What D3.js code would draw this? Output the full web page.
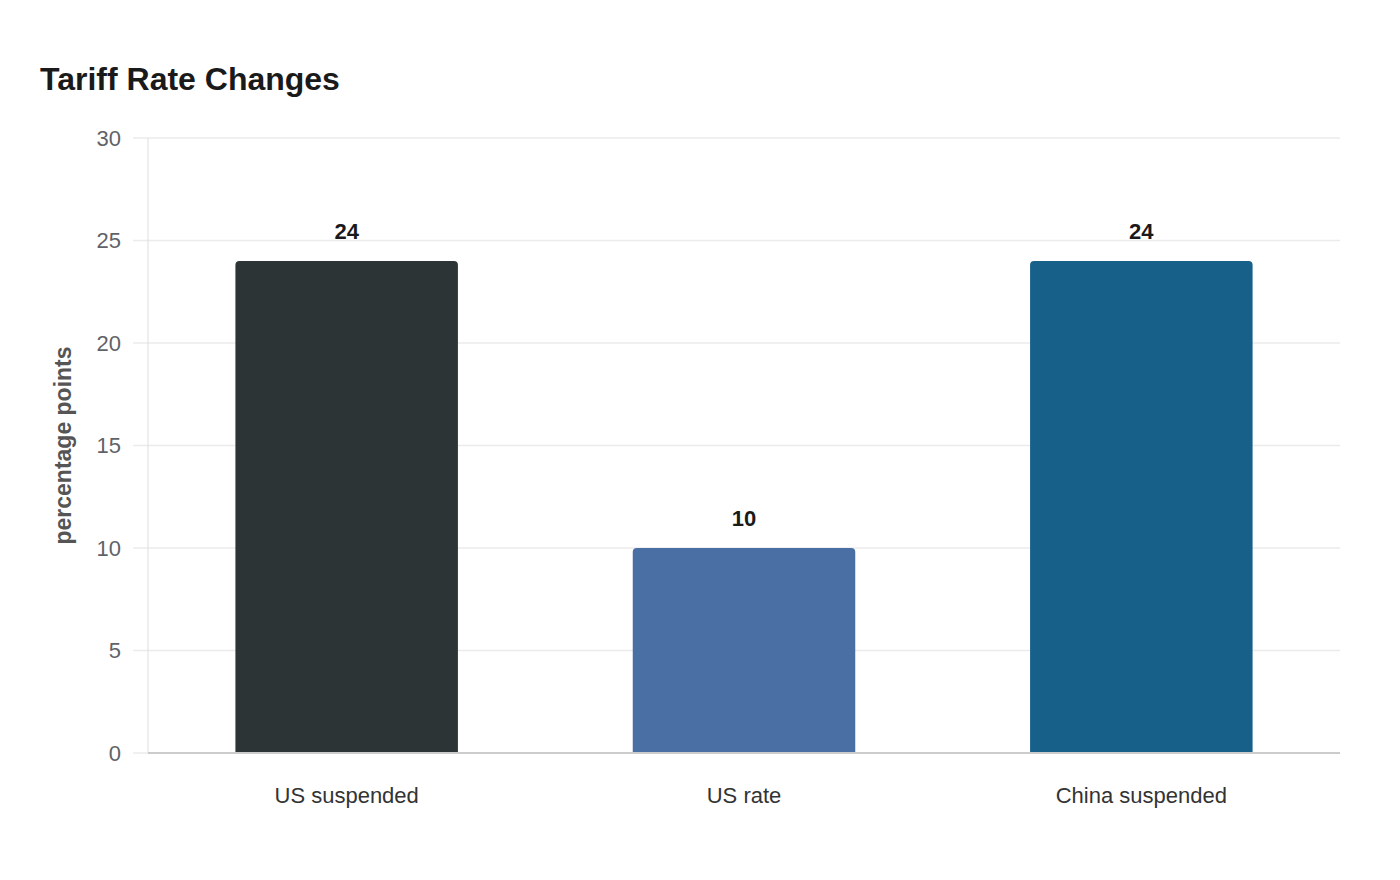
<!DOCTYPE html>
<html>
<head>
<meta charset="utf-8">
<script src="https://cdn.jsdelivr.net/npm/d3@7"></script>
<style>
body{margin:0;background:#fff;font-family:"Liberation Sans",Arial,sans-serif}
</style>
</head>
<body>
<svg id="chart"></svg>
<script>
var categories = ["US suspended","US rate","China suspended"]
var values = [24,10,24]
var barColors = ["#2d3436","#4a6fa5","#17608a"]
var yTicks = [0,5,10,15,20,25,30]

var screen = {width:1400,height:880}
var margins = {left:148,right:60,top:138,bottom:127}
var graph = {
    width:screen.width-margins.left-margins.right,
    height:screen.height-margins.top-margins.bottom
}

var svg = d3.select("#chart")
    .attr("width",screen.width)
    .attr("height",screen.height)

var xScale = d3.scaleBand()
    .domain(categories)
    .range([0,graph.width])
    .paddingInner(0.44)
    .paddingOuter(0.22)

var yScale = d3.scaleLinear()
    .domain([0,30])
    .range([graph.height,0])

var target = svg.append("g")
    .attr("transform","translate("+margins.left+","+margins.top+")")

// grid
target.append("g")
    .selectAll("line")
    .data(yTicks)
    .enter()
    .append("line")
    .attr("x1",-15)
    .attr("x2",graph.width)
    .attr("y1",function(d){return yScale(d)})
    .attr("y2",function(d){return yScale(d)})
    .attr("stroke","#ebebeb")
    .attr("stroke-width",1.5)

// y axis line
target.append("line")
    .attr("x1",0).attr("x2",0)
    .attr("y1",0).attr("y2",graph.height)
    .attr("stroke","#dedede")
    .attr("stroke-width",1)

// tick labels
target.append("g")
    .selectAll("text")
    .data(yTicks)
    .enter()
    .append("text")
    .attr("x",-27)
    .attr("y",function(d){return yScale(d)})
    .attr("dy","0.35em")
    .attr("text-anchor","end")
    .attr("font-size",22)
    .attr("fill","#5f6368")
    .text(function(d){return d})

// bars with rounded top corners
var r = 4
target.append("g")
    .selectAll("path")
    .data(values)
    .enter()
    .append("path")
    .attr("d",function(d,i){
        var x0 = xScale(categories[i])
        var x1 = x0+xScale.bandwidth()
        var y0 = yScale(0)
        var y1 = yScale(d)
        return "M"+x0+","+y0+"L"+x0+","+(y1+r)+"Q"+x0+","+y1+" "+(x0+r)+","+y1+
            "L"+(x1-r)+","+y1+"Q"+x1+","+y1+" "+x1+","+(y1+r)+"L"+x1+","+y0+"Z"
    })
    .attr("fill",function(d,i){return barColors[i]})

// value labels
target.append("g")
    .selectAll("text")
    .data(values)
    .enter()
    .append("text")
    .attr("x",function(d,i){return xScale(categories[i])+xScale.bandwidth()/2})
    .attr("y",function(d){return yScale(d)-22})
    .attr("text-anchor","middle")
    .attr("font-size",22)
    .attr("font-weight","bold")
    .attr("fill","#1a1a1a")
    .text(function(d){return d})

// x axis line
target.append("line")
    .attr("x1",0).attr("x2",graph.width)
    .attr("y1",graph.height).attr("y2",graph.height)
    .attr("stroke","#cccccc")
    .attr("stroke-width",2)

// category labels
target.append("g")
    .selectAll("text")
    .data(categories)
    .enter()
    .append("text")
    .attr("x",function(d){return xScale(d)+xScale.bandwidth()/2})
    .attr("y",graph.height+50)
    .attr("text-anchor","middle")
    .attr("font-size",22)
    .attr("fill","#333333")
    .text(function(d){return d})

// title
svg.append("text")
    .attr("x",40)
    .attr("y",90)
    .attr("font-size",32)
    .attr("font-weight","bold")
    .attr("fill","#1a1a1a")
    .text("Tariff Rate Changes")

// y axis title
svg.append("g")
    .attr("transform","translate(71,"+(margins.top+graph.height*0.5)+")")
    .append("text")
    .attr("transform","rotate(-90)")
    .attr("text-anchor","middle")
    .attr("font-size",23)
    .attr("font-weight","bold")
    .attr("fill","#555555")
    .text("percentage points")
</script>
</body>
</html>
